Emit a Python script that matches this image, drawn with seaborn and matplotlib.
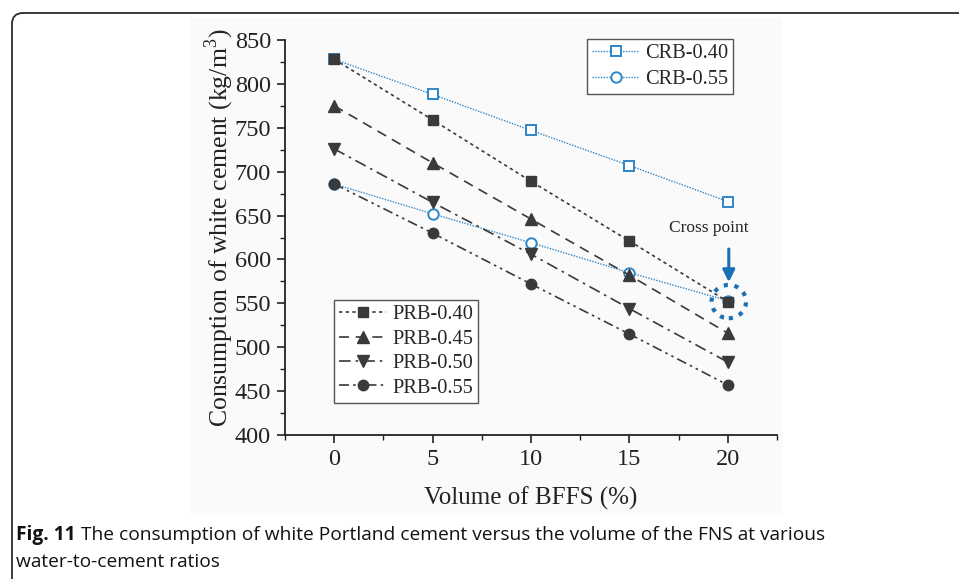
import matplotlib
matplotlib.use("Agg")
import matplotlib.pyplot as plt
import seaborn as sns
import pandas as pd
import numpy as np
from matplotlib.patches import FancyBboxPatch, Rectangle, Ellipse

# ---------------- data ----------------
bffs = [0, 5, 10, 15, 20]
crb_040 = [828, 788, 747, 707, 666]
crb_055 = [686, 652, 619, 585, 553]
prb_040 = [828, 759, 689, 621, 552]
prb_045 = [775, 710, 646, 582, 516]
prb_050 = [726, 665, 606, 544, 483]
prb_055 = [686, 630, 572, 515, 457]

crb_labels = ["CRB-0.40", "CRB-0.55"]
prb_labels = ["PRB-0.40", "PRB-0.45", "PRB-0.50", "PRB-0.55"]
x_ticks = [0, 5, 10, 15, 20]
y_ticks = [400, 450, 500, 550, 600, 650, 700, 750, 800, 850]

xlabel = "Volume of BFFS (%)"
ylabel = "Consumption of white cement (kg/m$^3$)"
cross_text = "Cross point"
cap_bold = "Fig. 11"
cap_rest = " The consumption of white Portland cement versus the volume of the FNS at various"
cap_line2 = "water-to-cement ratios"

# ---------------- style ----------------
sns.set_theme(style="ticks")
plt.rcParams["font.family"] = ["Liberation Serif", "DejaVu Serif"]
plt.rcParams["mathtext.fontset"] = "custom"
plt.rcParams["mathtext.rm"] = "Liberation Serif"

W, H = 959, 579
fig = plt.figure(figsize=(W / 100, H / 100), dpi=100)
fig.patch.set_facecolor("white")

# faint background of embedded chart image
fig.add_artist(Rectangle((190, H - 515), 592, 497, transform=None,
                         facecolor="#fafafa", edgecolor="none", zorder=-10))

# outer frame (left + top with rounded corner)
fig.add_artist(FancyBboxPatch((12, -200), 3000, (H - 13) + 200,
                              boxstyle="round,pad=0,rounding_size=11",
                              transform=None, facecolor="none",
                              edgecolor="#2b2b2b", linewidth=1.3, zorder=5))

ax = fig.add_axes([285 / W, 1 - 435 / H, (777 - 285) / W, (435 - 40) / H])
ax.set_facecolor("none")

blue = "#2f86c8"
dark = "#3a3a3a"

series = [
    ("CRB-0.40", crb_040), ("CRB-0.55", crb_055),
    ("PRB-0.40", prb_040), ("PRB-0.45", prb_045),
    ("PRB-0.50", prb_050), ("PRB-0.55", prb_055),
]
df = pd.concat([pd.DataFrame({"x": bffs, "y": vals, "series": name})
                for name, vals in series], ignore_index=True)

styles = {
    "CRB-0.40": dict(color=blue, marker="s", ls=(0, (1, 1)), mfc="white", mec=blue, ms=7.5, mew=1.4, lw=1.0),
    "CRB-0.55": dict(color=blue, marker="o", ls=(0, (1, 1)), mfc="white", mec=blue, ms=7.5, mew=1.4, lw=1.0),
    "PRB-0.40": dict(color=dark, marker="s", ls=(0, (2, 2)), mfc=dark, mec=dark, ms=7.5, mew=1.0, lw=1.2),
    "PRB-0.45": dict(color=dark, marker="^", ls=(0, (6, 4)), mfc=dark, mec=dark, ms=8.5, mew=1.0, lw=1.2),
    "PRB-0.50": dict(color=dark, marker="v", ls=(0, (7, 3, 1.5, 3)), mfc=dark, mec=dark, ms=8.5, mew=1.0, lw=1.2),
    "PRB-0.55": dict(color=dark, marker="o", ls=(0, (6, 2.5, 1.5, 2.5, 1.5, 2.5)), mfc=dark, mec=dark, ms=7.5, mew=1.0, lw=1.2),
}

handles = {}
for name, _ in series:
    st = styles[name]
    sub = df[df["series"] == name]
    n_before = len(ax.lines)
    sns.lineplot(data=sub, x="x", y="y", ax=ax, legend=False, color=st["color"],
                 linewidth=st["lw"], estimator=None, sort=False)
    ln = ax.lines[n_before]
    ln.set_linestyle(st["ls"])
    ln.set_marker(st["marker"])
    ln.set_markersize(st["ms"])
    ln.set_markerfacecolor(st["mfc"])
    ln.set_markeredgecolor(st["mec"])
    ln.set_markeredgewidth(st["mew"])
    ln.set_label(name)
    handles[name] = ln

ax.set_xlim(-2.5, 22.5)
ax.set_ylim(400, 850)
ax.set_xticks(x_ticks)
ax.set_yticks(y_ticks)
ax.set_xticks(np.arange(-2.5, 22.6, 5), minor=True)
ax.set_yticks(np.arange(425, 850, 50), minor=True)
ax.tick_params(axis="both", which="major", direction="out", length=6, width=1.2,
               labelsize=17.5, color="#222222", labelcolor="#222222", pad=4)
ax.tick_params(axis="both", which="minor", direction="out", length=3.5, width=1.0,
               color="#222222")
for s in ["top", "right"]:
    ax.spines[s].set_visible(False)
for s in ["left", "bottom"]:
    ax.spines[s].set_linewidth(1.3)
    ax.spines[s].set_color("#222222")

ax.set_xlabel(xlabel, fontsize=18, color="#222222", labelpad=12)
ax.set_ylabel(ylabel, fontsize=18.5, color="#222222", labelpad=-1)
ax.yaxis.label.set_y(0.525)

leg_kw = dict(loc="upper left", fontsize=14.7, frameon=True, fancybox=False,
              edgecolor="#555555", framealpha=1, handlelength=2.3, handletextpad=0.3,
              borderpad=0.25, labelspacing=0.3, borderaxespad=0)
leg1 = ax.legend([handles[n] for n in crb_labels], crb_labels,
                 bbox_to_anchor=((587 - 285) / 492, (435 - 39) / 395), **leg_kw)
leg1.get_frame().set_linewidth(1.0)
ax.add_artist(leg1)
leg2 = ax.legend([handles[n] for n in prb_labels], prb_labels,
                 bbox_to_anchor=((334 - 285) / 492, (435 - 300) / 395),
                 **{**leg_kw, "labelspacing": 0.25})
leg2.get_frame().set_linewidth(1.0)

# cross point annotation
ax.text(19.05, 636, cross_text, ha="center", va="center", fontsize=12.5, color="#222222")
ax.annotate("", xy=(20.05, 571), xytext=(20.05, 615),
            arrowprops=dict(arrowstyle="-|>,head_length=0.6,head_width=0.3",
                            color="#1a6fb5", lw=2.2))
ax.add_patch(Ellipse((20.05, 552), 1.75, 38, fill=False, edgecolor="#1a6fb5",
                     linestyle=(0, (1, 1.6)), linewidth=3.0, zorder=6))

# caption
fig.canvas.draw()
renderer = fig.canvas.get_renderer()
capfont = ["Open Sans", "DejaVu Sans"]
t1 = fig.text(16 / W, 1 - 535 / H, cap_bold, fontsize=13.8, fontweight="bold",
              family=capfont, va="center", ha="left", color="#111111")
bb = t1.get_window_extent(renderer)
fig.text(bb.x1 / W, 1 - 535 / H, cap_rest, fontsize=13.8, family=capfont,
         va="center", ha="left", color="#111111")
fig.text(16 / W, 1 - 562 / H, cap_line2, fontsize=13.8, family=capfont,
         va="center", ha="left", color="#111111")

fig.savefig("out.png", dpi=100)
